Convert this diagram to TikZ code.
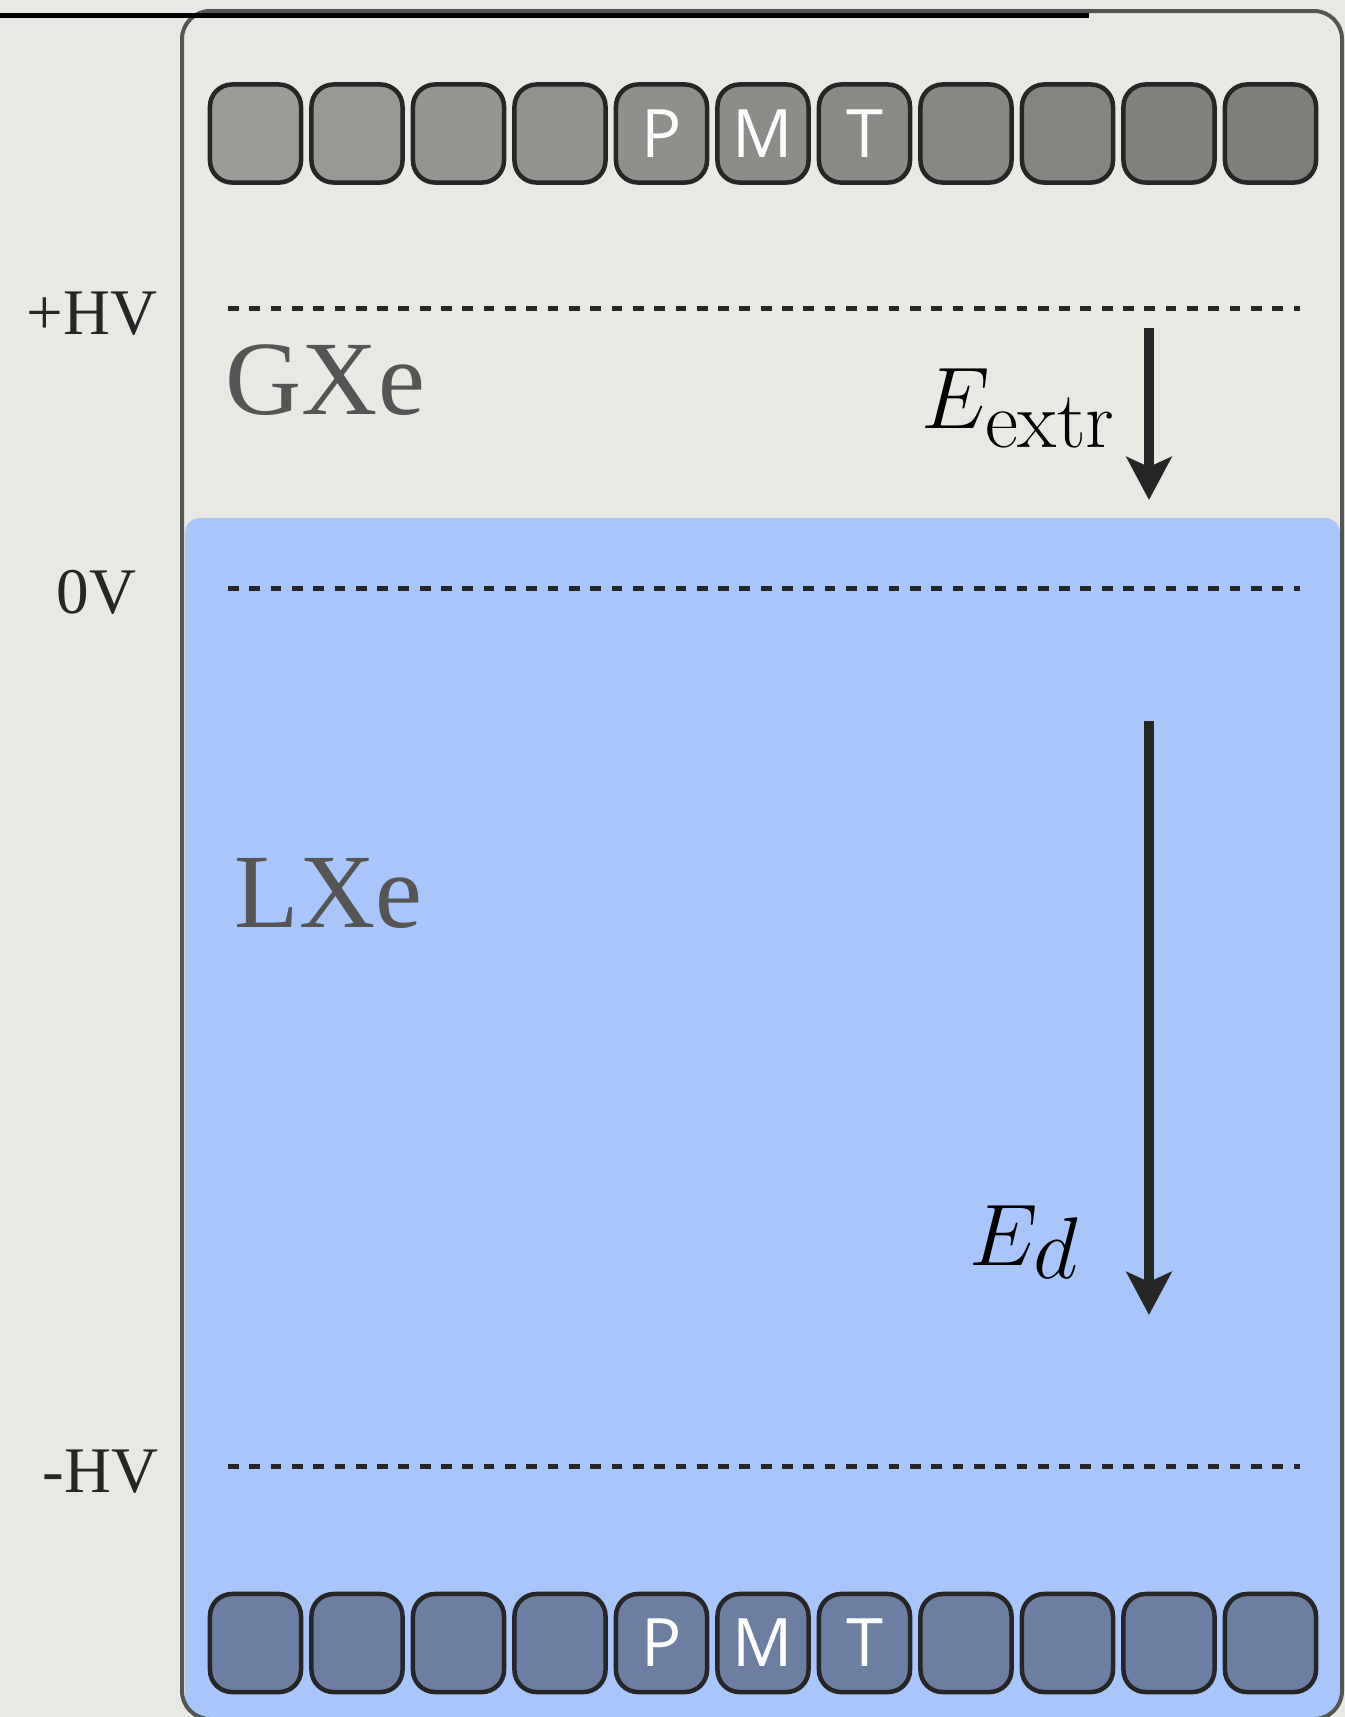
\documentclass[tikz,border=0pt]{standalone}
\usepackage{amsmath}
\usepackage{fontspec}
\usetikzlibrary{arrows.meta}
\newfontfamily\hvfont{Liberation Serif}
\newfontfamily\pmtfont{Open Sans}
\DeclareMathSizes{26}{26}{23}{16}
\definecolor{bggray}{RGB}{233,233,228}
\definecolor{lxeblue}{RGB}{168,198,252}
\definecolor{pmtlight}{RGB}{155,155,151}
\definecolor{pmtdark}{RGB}{126,126,122}
\definecolor{pmtslate}{RGB}{108,126,161}
\definecolor{darkline}{RGB}{38,38,38}
\definecolor{boxgray}{RGB}{85,85,85}
\tikzset{
  pmtbox/.style={rectangle, draw=darkline, line width=0.045cm, rounded corners=0.22cm, minimum width=0.91cm, minimum height=0.98cm, inner sep=0pt, text=white, font=\pmtfont\fontsize{19}{19}\selectfont},
  hvlabel/.style={anchor=base east, inner sep=0pt, text=darkline, font=\hvfont\fontsize{18.5}{20}\selectfont},
  xelabel/.style={anchor=base west, inner sep=0pt, text=boxgray, font=\hvfont\fontsize{30}{33}\selectfont},
  fieldlabel/.style={anchor=base west, inner sep=0pt, font=\fontsize{26}{30}\selectfont},
  fieldarrow/.style={-{Stealth[length=0.43cm, width=0.45cm, inset=0.1cm]}, line width=0.1cm, darkline},
  hvline/.style={line width=0.05cm, darkline, dash pattern=on 0.107cm off 0.106cm}
}
\begin{document}
\begin{tikzpicture}[x=0.01cm, y=-0.01cm]
    \useasboundingbox (0,0) rectangle (1345,1717);
    \fill[bggray] (0,0) rectangle (1345,1717);

    % Liquid xenon volume
    \begin{scope}
        \clip[rounded corners=0.28cm] (182,11) rectangle (1342,1719);
        \fill[lxeblue, rounded corners=0.15cm] (185,518) rectangle (1340,1760);
    \end{scope}
    \draw[boxgray, line width=0.04cm, rounded corners=0.28cm] (182,11) rectangle (1342,1719);
    \draw[black, line width=0.055cm] (0,15.5) -- (1089,15.5);

    % Electrode planes
    \draw[hvline] (228,308) -- (1300,308);
    \draw[hvline] (228,588) -- (1300,588);
    \draw[hvline] (228,1466) -- (1300,1466);
    \node[hvlabel] (hvtop) at (158,334) {+HV};
    \node[hvlabel] (hvgate) at (137,613) {0V};
    \node[hvlabel] (hvcath) at (159,1492) {-HV};

    % Phases
    \node[xelabel] (gxe) at (225,414) {GXe};
    \node[xelabel] (lxe) at (234,927) {LXe};

    % PMT arrays
    \foreach \i/\lab in {1/{},2/{},3/{},4/{},5/P,6/M,7/T,8/{},9/{},10/{},11/{}} {
        \pgfmathtruncatemacro\shade{100-10*(\i-1)}
        \node[pmtbox, fill=pmtlight!\shade!pmtdark] (pmtT\i) at ({255.5+101.5*(\i-1)},133.5) {\lab};
        \node[pmtbox, fill=pmtslate] (pmtB\i) at ({255.5+101.5*(\i-1)},1643) {\lab};
    }

    % Fields
    \coordinate (extrtop) at (1149,328);
    \coordinate (extrtip) at (1149,500);
    \coordinate (drifttop) at (1149,721);
    \coordinate (drifttip) at (1149,1315);
    \draw[fieldarrow] (extrtop) -- (extrtip);
    \draw[fieldarrow] (drifttop) -- (drifttip);
    \node[fieldlabel] (eextr) at (921,428) {$E_{\mathrm{extr}}$};
    \node[fieldlabel] (edrift) at (969,1265) {$E_{\smash{d}}$};
\end{tikzpicture}
\end{document}
